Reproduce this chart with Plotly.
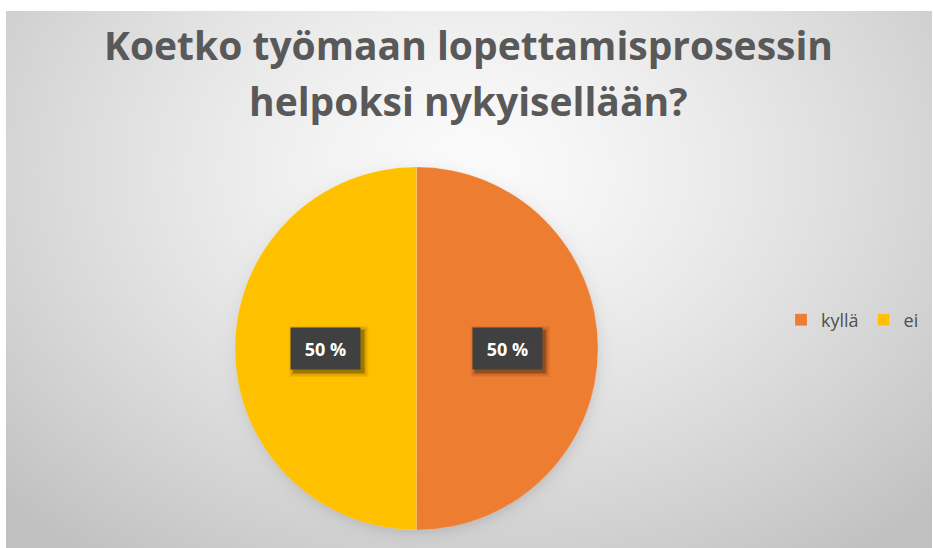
import numpy as np
import plotly.graph_objects as go

# Survey answers
categories = ["kyllä", "ei"]
values = [1, 1]
colors = ["#ED7D31", "#FFC000"]
title_lines = ["Koetko työmaan lopettamisprosessin", "helpoksi nykyisellään?"]

W, H = 933, 548
FRAME_L, FRAME_T = 6, 11           # white frame around the chart area
PIE_CX, PIE_CY, PIE_R = 416.5, 348.5, 181.5   # pie placement in pixels
BOX_W, BOX_H, BOX_PAD = 51, 23, 9             # percentage label boxes

fig = go.Figure()

# --- soft radial backdrop with a faint shadow ring around the pie ---
gx = np.arange(FRAME_L, W + 1, 4.0)
gy = np.arange(FRAME_T, H + 1, 4.0)
X, Y = np.meshgrid(gx, gy)
d = np.sqrt(((X - 470) / 560.0) ** 2 + ((Y - 170) / 420.0) ** 2)
shade = 251 - 49 * np.clip(d, 0, 1.15) ** 1.3
r = np.sqrt((X - PIE_CX - 1) ** 2 + (Y - PIE_CY - 3) ** 2)
shade -= 22 * np.exp(-np.clip(r - PIE_R + 3, 0, None) / 6.0)
fig.add_trace(go.Heatmap(
    x=gx, y=gy, z=shade, zmin=0, zmax=255, zsmooth="best",
    colorscale=[[0, "rgb(0,0,0)"], [1, "rgb(255,255,255)"]],
    showscale=False, hoverinfo="skip",
))

# --- the pie ---
fig.add_trace(go.Pie(
    labels=categories, values=values, sort=False,
    direction="clockwise", rotation=0,
    marker=dict(colors=colors, line=dict(color="rgba(255,255,255,0.25)", width=0.6)),
    textinfo="none", hoverinfo="label+percent",
    domain=dict(x=[(PIE_CX - PIE_R) / W, (PIE_CX + PIE_R) / W],
                y=[1 - (PIE_CY + PIE_R) / H, 1 - (PIE_CY - PIE_R) / H]),
    showlegend=True,
))

# --- percentage labels in dark boxes at each slice's mid-angle ---
total = float(sum(values))
cum = 0.0
annotations, shapes = [], []
half_w = BOX_W / 2 + BOX_PAD + 1
half_h = BOX_H / 2 + BOX_PAD + 1
for v in values:
    mid = 2 * np.pi * (cum + v / 2) / total
    cum += v
    px = PIE_CX + 0.5 * PIE_R * np.sin(mid)
    py = PIE_CY - 0.5 * PIE_R * np.cos(mid)
    # soft drop shadow: a few stacked translucent rectangles offset down-right
    for grow, alpha in [(4, 0.06), (2.5, 0.08), (1, 0.12), (0, 0.18)]:
        shapes.append(dict(
            type="rect", xref="paper", yref="paper", layer="above",
            x0=(px - half_w + 3 - grow) / W, x1=(px + half_w + 3 + grow) / W,
            y0=1 - (py + half_h + 3 + grow) / H, y1=1 - (py - half_h + 3 - grow) / H,
            fillcolor=f"rgba(0,0,0,{alpha})", line=dict(width=0),
        ))
    annotations.append(dict(
        text=f"<b>{round(100 * v / total)} %</b>",
        x=px / W, y=1 - py / H, xref="paper", yref="paper",
        showarrow=False, width=BOX_W, height=BOX_H, borderpad=BOX_PAD,
        bgcolor="#404040",
        font=dict(family="Open Sans", size=18, color="white"),
    ))

# --- two-line title ---
for line, yc in zip(title_lines, [45, 100]):
    annotations.append(dict(
        text=f"<b>{line}</b>", x=468.5 / W, y=1 - yc / H, xref="paper", yref="paper",
        showarrow=False, xanchor="center", yanchor="middle",
        font=dict(family="Open Sans", size=39, color="#595959"),
    ))

fig.update_layout(
    width=W, height=H,
    margin=dict(l=0, r=0, t=0, b=0),
    paper_bgcolor="white", plot_bgcolor="white",
    xaxis=dict(visible=False, range=[FRAME_L, W], domain=[FRAME_L / W, 1]),
    yaxis=dict(visible=False, range=[H, FRAME_T], domain=[0, 1 - FRAME_T / H]),
    legend=dict(orientation="h", x=781 / W, y=1 - 320 / H, xanchor="left",
                yanchor="middle", bgcolor="rgba(0,0,0,0)",
                font=dict(family="Open Sans", size=18, color="#505050"),
                itemclick=False),
    annotations=annotations,
    shapes=shapes,
)

fig.write_html("out.html")
